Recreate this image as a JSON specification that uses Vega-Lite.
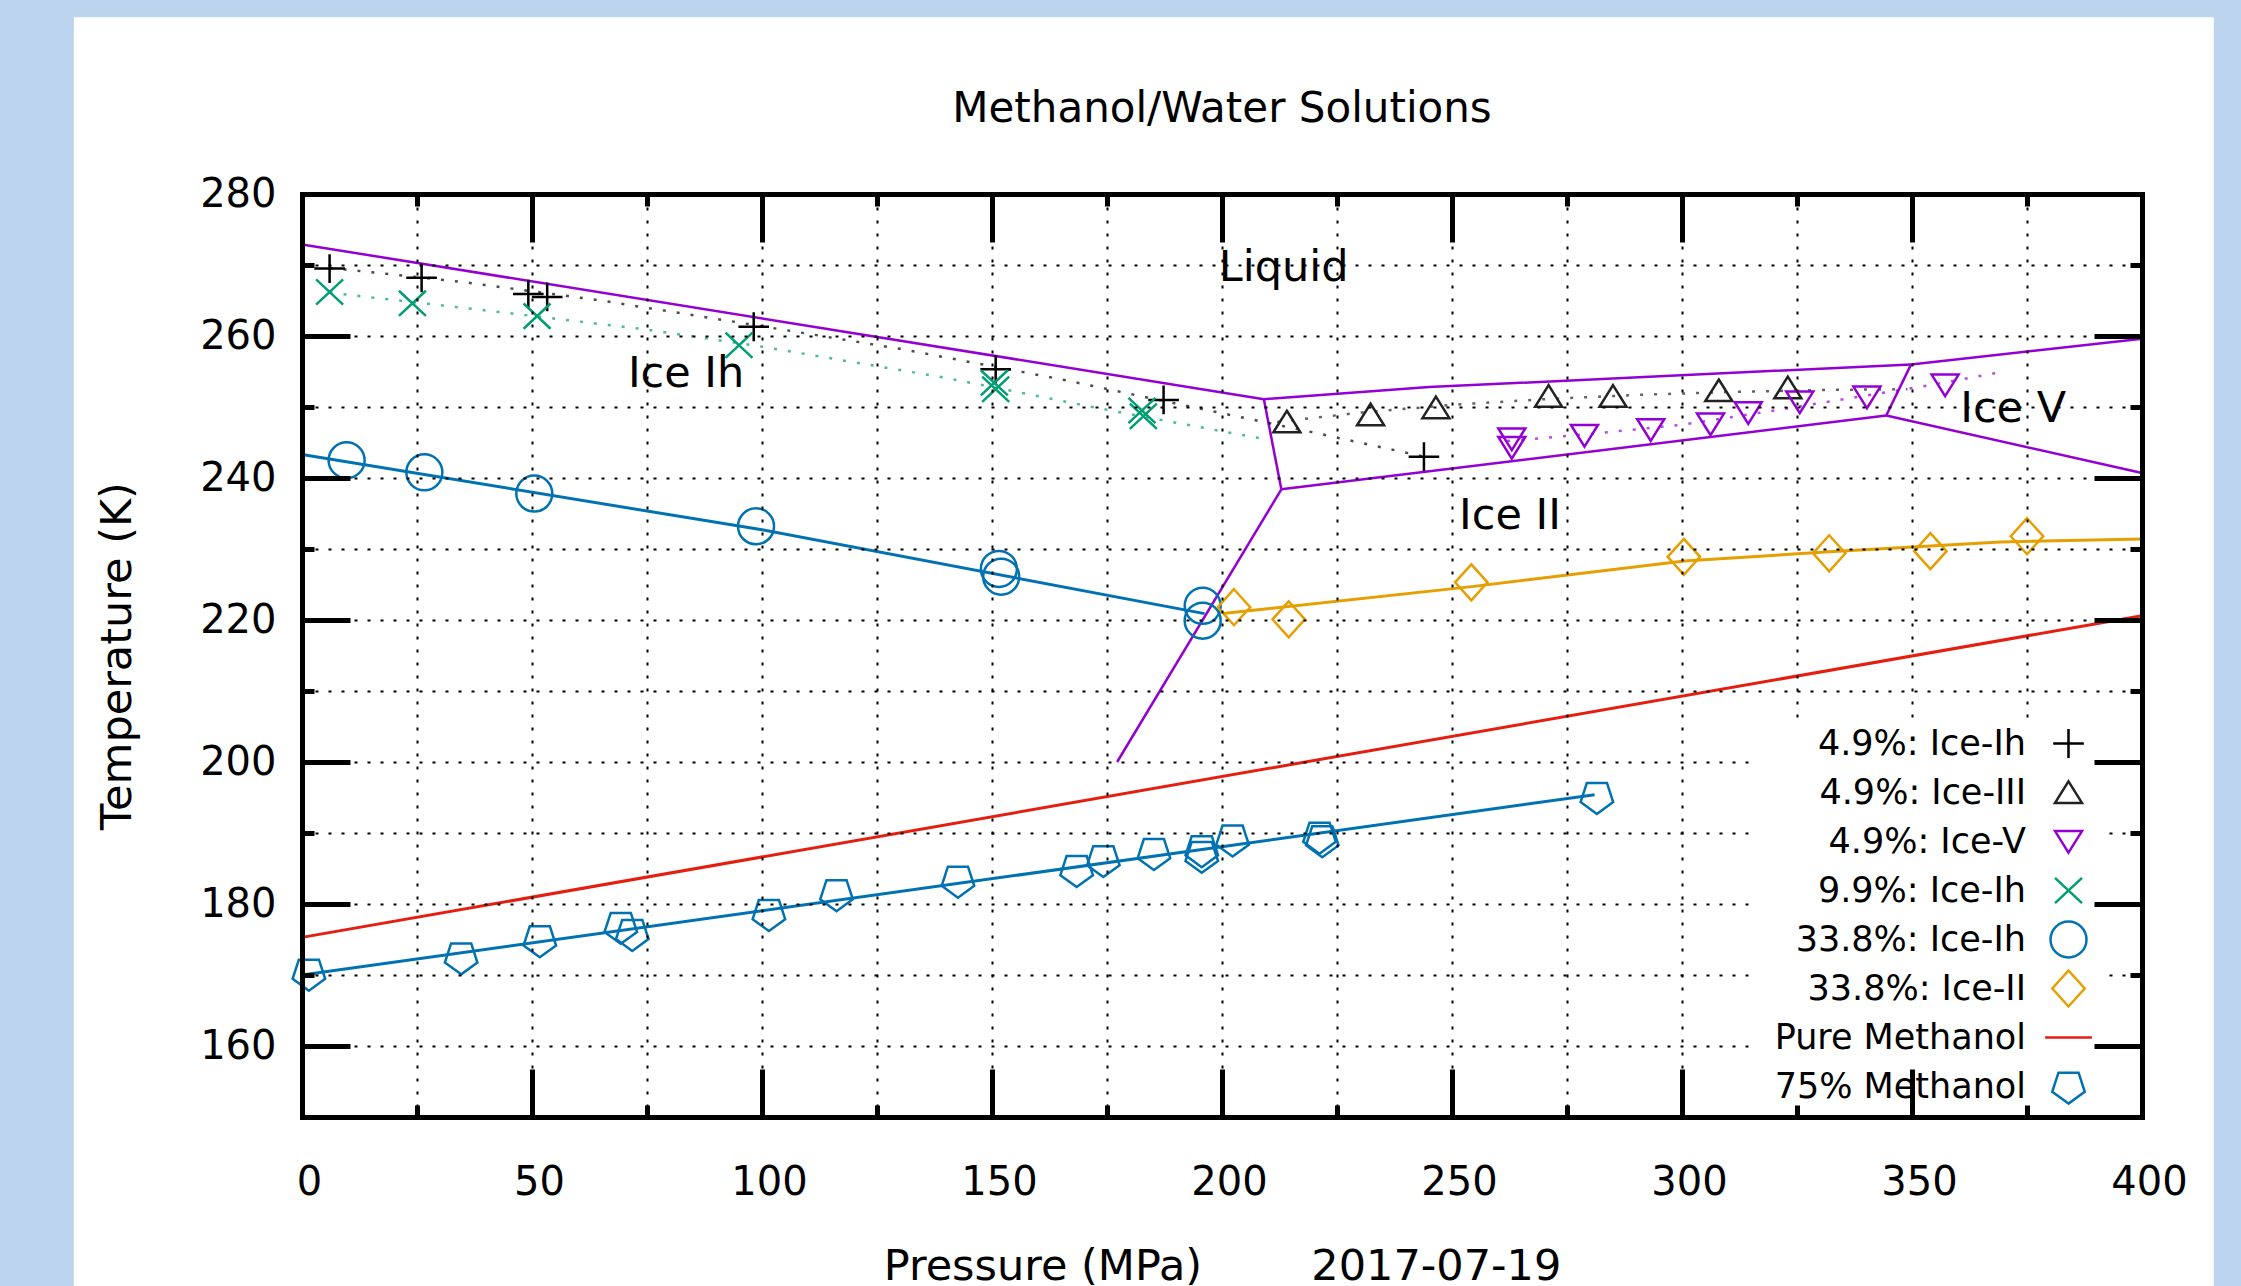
{
  "$schema": "https://vega.github.io/schema/vega-lite/v6.json",
  "width": 1840,
  "height": 923,
  "autosize": {"type": "none"},
  "padding": {"left": 302, "top": 194, "right": 99, "bottom": 169},
  "background": "#bcd4ee",
  "title": {"text": "Methanol/Water Solutions", "font": "DejaVu Sans", "fontSize": 42, "fontWeight": "normal", "color": "black", "offset": -114, "anchor": "middle", "frame": "group"},
  "config": {"view": {"stroke": null}},
  "datasets": {
    "pts": [
      {"s": "4.9%: Ice-Ih", "p": 6.0, "t": 269.5},
      {"s": "4.9%: Ice-Ih", "p": 26.0, "t": 268.2},
      {"s": "4.9%: Ice-Ih", "p": 49.2, "t": 265.9},
      {"s": "4.9%: Ice-Ih", "p": 53.3, "t": 265.5},
      {"s": "4.9%: Ice-Ih", "p": 98.2, "t": 261.3},
      {"s": "4.9%: Ice-Ih", "p": 150.8, "t": 255.3},
      {"s": "4.9%: Ice-Ih", "p": 187.3, "t": 251.0},
      {"s": "4.9%: Ice-Ih", "p": 243.9, "t": 243.0},
      {"s": "4.9%: Ice-III", "p": 214.1, "t": 247.9},
      {"s": "4.9%: Ice-III", "p": 232.3, "t": 248.9},
      {"s": "4.9%: Ice-III", "p": 246.5, "t": 249.9},
      {"s": "4.9%: Ice-III", "p": 271.0, "t": 251.5},
      {"s": "4.9%: Ice-III", "p": 285.0, "t": 251.5},
      {"s": "4.9%: Ice-III", "p": 308.0, "t": 252.3},
      {"s": "4.9%: Ice-III", "p": 323.0, "t": 252.7},
      {"s": "4.9%: Ice-V", "p": 263.0, "t": 245.5},
      {"s": "4.9%: Ice-V", "p": 263.0, "t": 244.3},
      {"s": "4.9%: Ice-V", "p": 278.8, "t": 246.0},
      {"s": "4.9%: Ice-V", "p": 293.2, "t": 246.8},
      {"s": "4.9%: Ice-V", "p": 306.2, "t": 247.6},
      {"s": "4.9%: Ice-V", "p": 314.4, "t": 249.2},
      {"s": "4.9%: Ice-V", "p": 325.6, "t": 250.7},
      {"s": "4.9%: Ice-V", "p": 340.2, "t": 251.4},
      {"s": "4.9%: Ice-V", "p": 357.2, "t": 253.1},
      {"s": "9.9%: Ice-Ih", "p": 6.0, "t": 266.2},
      {"s": "9.9%: Ice-Ih", "p": 24.0, "t": 264.6},
      {"s": "9.9%: Ice-Ih", "p": 51.1, "t": 262.8},
      {"s": "9.9%: Ice-Ih", "p": 95.0, "t": 258.7},
      {"s": "9.9%: Ice-Ih", "p": 150.5, "t": 253.4},
      {"s": "9.9%: Ice-Ih", "p": 150.8, "t": 252.5},
      {"s": "9.9%: Ice-Ih", "p": 182.6, "t": 249.5},
      {"s": "9.9%: Ice-Ih", "p": 182.9, "t": 248.7},
      {"s": "33.8%: Ice-Ih", "p": 9.7, "t": 242.5},
      {"s": "33.8%: Ice-Ih", "p": 26.6, "t": 240.8},
      {"s": "33.8%: Ice-Ih", "p": 50.5, "t": 237.8},
      {"s": "33.8%: Ice-Ih", "p": 98.7, "t": 233.2},
      {"s": "33.8%: Ice-Ih", "p": 151.5, "t": 227.2},
      {"s": "33.8%: Ice-Ih", "p": 152.0, "t": 226.1},
      {"s": "33.8%: Ice-Ih", "p": 195.8, "t": 222.0},
      {"s": "33.8%: Ice-Ih", "p": 195.8, "t": 219.9},
      {"s": "33.8%: Ice-II", "p": 202.6, "t": 221.8},
      {"s": "33.8%: Ice-II", "p": 214.5, "t": 220.1},
      {"s": "33.8%: Ice-II", "p": 254.2, "t": 225.3},
      {"s": "33.8%: Ice-II", "p": 300.4, "t": 228.9},
      {"s": "33.8%: Ice-II", "p": 332.0, "t": 229.4},
      {"s": "33.8%: Ice-II", "p": 354.0, "t": 229.7},
      {"s": "33.8%: Ice-II", "p": 375.0, "t": 231.8},
      {"s": "75% Methanol", "p": 1.5, "t": 170.2},
      {"s": "75% Methanol", "p": 34.6, "t": 172.5},
      {"s": "75% Methanol", "p": 51.7, "t": 174.9},
      {"s": "75% Methanol", "p": 69.3, "t": 176.8},
      {"s": "75% Methanol", "p": 71.8, "t": 175.8},
      {"s": "75% Methanol", "p": 101.5, "t": 178.6},
      {"s": "75% Methanol", "p": 116.2, "t": 181.4},
      {"s": "75% Methanol", "p": 142.6, "t": 183.3},
      {"s": "75% Methanol", "p": 168.4, "t": 184.8},
      {"s": "75% Methanol", "p": 174.2, "t": 186.2},
      {"s": "75% Methanol", "p": 185.2, "t": 187.2},
      {"s": "75% Methanol", "p": 195.6, "t": 187.6},
      {"s": "75% Methanol", "p": 195.6, "t": 186.8},
      {"s": "75% Methanol", "p": 202.3, "t": 189.1},
      {"s": "75% Methanol", "p": 221.2, "t": 189.5},
      {"s": "75% Methanol", "p": 221.8, "t": 189.0},
      {"s": "75% Methanol", "p": 281.5, "t": 195.1}
    ],
    "fit": [
      {"s": "33.8%: Ice-Ih", "p": 0, "t": 243.3},
      {"s": "33.8%: Ice-Ih", "p": 100, "t": 232.7},
      {"s": "33.8%: Ice-Ih", "p": 196.2, "t": 220.9},
      {"s": "33.8%: Ice-II", "p": 200.2, "t": 220.9},
      {"s": "33.8%: Ice-II", "p": 254.3, "t": 224.7},
      {"s": "33.8%: Ice-II", "p": 300.5, "t": 228.3},
      {"s": "33.8%: Ice-II", "p": 332.0, "t": 229.6},
      {"s": "33.8%: Ice-II", "p": 369.2, "t": 231.0},
      {"s": "33.8%: Ice-II", "p": 400, "t": 231.4},
      {"s": "Pure Methanol", "p": 0, "t": 175.3},
      {"s": "Pure Methanol", "p": 400, "t": 220.6},
      {"s": "75% Methanol", "p": 0, "t": 170.0},
      {"s": "75% Methanol", "p": 281.0, "t": 195.4}
    ],
    "dot": [
      {"s": "4.9%: Ice-Ih", "p": 6, "t": 269.6},
      {"s": "4.9%: Ice-Ih", "p": 35, "t": 267.6},
      {"s": "4.9%: Ice-Ih", "p": 65, "t": 265.0},
      {"s": "4.9%: Ice-Ih", "p": 95, "t": 261.9},
      {"s": "4.9%: Ice-Ih", "p": 130, "t": 258.2},
      {"s": "4.9%: Ice-Ih", "p": 165, "t": 253.9},
      {"s": "4.9%: Ice-Ih", "p": 195, "t": 249.8},
      {"s": "4.9%: Ice-Ih", "p": 220, "t": 246.4},
      {"s": "4.9%: Ice-Ih", "p": 244, "t": 243.0},
      {"s": "4.9%: Ice-III", "p": 212, "t": 247.9},
      {"s": "4.9%: Ice-III", "p": 230, "t": 249.2},
      {"s": "4.9%: Ice-III", "p": 250, "t": 250.3},
      {"s": "4.9%: Ice-III", "p": 270, "t": 251.1},
      {"s": "4.9%: Ice-III", "p": 290, "t": 251.7},
      {"s": "4.9%: Ice-III", "p": 310, "t": 252.1},
      {"s": "4.9%: Ice-III", "p": 330, "t": 252.4},
      {"s": "4.9%: Ice-III", "p": 349, "t": 252.5},
      {"s": "4.9%: Ice-V", "p": 262, "t": 245.2},
      {"s": "4.9%: Ice-V", "p": 280, "t": 246.2},
      {"s": "4.9%: Ice-V", "p": 300, "t": 247.5},
      {"s": "4.9%: Ice-V", "p": 320, "t": 249.5},
      {"s": "4.9%: Ice-V", "p": 340, "t": 251.6},
      {"s": "4.9%: Ice-V", "p": 355, "t": 253.2},
      {"s": "4.9%: Ice-V", "p": 370, "t": 255.0},
      {"s": "9.9%: Ice-Ih", "p": 6, "t": 266.1},
      {"s": "9.9%: Ice-Ih", "p": 40, "t": 263.6},
      {"s": "9.9%: Ice-Ih", "p": 75, "t": 260.9},
      {"s": "9.9%: Ice-Ih", "p": 100, "t": 258.5},
      {"s": "9.9%: Ice-Ih", "p": 140, "t": 254.1},
      {"s": "9.9%: Ice-Ih", "p": 175, "t": 249.6},
      {"s": "9.9%: Ice-Ih", "p": 209, "t": 245.5}
    ],
    "phase": [
      {"seg": "Ih-L", "p": 0, "t": 272.9},
      {"seg": "Ih-L", "p": 209.1, "t": 251.1},
      {"seg": "III-L", "p": 209.1, "t": 251.1},
      {"seg": "III-L", "p": 245.0, "t": 252.8},
      {"seg": "III-L", "p": 349.8, "t": 256.0},
      {"seg": "V-L", "p": 349.8, "t": 256.0},
      {"seg": "V-L", "p": 400, "t": 259.6},
      {"seg": "Ih-III", "p": 209.1, "t": 251.1},
      {"seg": "Ih-III", "p": 212.9, "t": 238.4},
      {"seg": "III-II", "p": 212.9, "t": 238.4},
      {"seg": "III-II", "p": 344.4, "t": 248.8},
      {"seg": "III-V", "p": 344.4, "t": 248.8},
      {"seg": "III-V", "p": 349.8, "t": 256.0},
      {"seg": "II-V", "p": 344.4, "t": 248.8},
      {"seg": "II-V", "p": 400, "t": 240.7},
      {"seg": "Ih-II", "p": 212.9, "t": 238.4},
      {"seg": "Ih-II", "p": 177.2, "t": 200.0}
    ],
    "lab": [
      {"label": "Liquid", "p": 213.4, "t": 269.6},
      {"label": "Ice Ih", "p": 83.5, "t": 254.6},
      {"label": "Ice II", "p": 262.6, "t": 234.6},
      {"label": "Ice V", "p": 372.0, "t": 249.7}
    ]
  },
  "layer": [
    {
      "data": {"values": [{}]},
      "mark": {"type": "rect", "color": "white"},
      "encoding": {
        "x": {"datum": -49.6, "type": "quantitative", "scale": {"domain": [0, 400], "nice": false, "zero": false}, "axis": null},
        "x2": {"datum": 415.6},
        "y": {"datum": 304.9, "type": "quantitative", "scale": {"domain": [150, 280], "nice": false, "zero": false}, "axis": null},
        "y2": {"datum": 100}
      }
    },
    {
      "data": {"name": "phase"},
      "mark": {"type": "line", "color": "#9400D3", "strokeWidth": 2.5},
      "encoding": {
        "x": {"field": "p", "type": "quantitative", "scale": {"domain": [0, 400], "nice": false, "zero": false},
          "axis": {"orient": "bottom", "values": [0, 50, 100, 150, 200, 250, 300, 350, 400], "ticks": false, "domain": false, "grid": false,
            "labelFont": "DejaVu Sans", "labelFontSize": 40, "labelColor": "black", "labelPadding": 45, "labelOffset": 7, "labelFlush": false, "labelOverlap": false,
            "title": "Pressure (MPa)\u00a0\u00a0\u00a0\u00a0\u00a0\u00a0\u00a0\u00a02017-07-19", "titleFont": "DejaVu Sans", "titleFontSize": 43, "titleFontWeight": "normal", "titleColor": "black", "titlePadding": 43, "zindex": 1}},
        "y": {"field": "t", "type": "quantitative", "scale": {"domain": [150, 280], "nice": false, "zero": false},
          "axis": {"orient": "left", "values": [160, 180, 200, 220, 240, 260, 280], "ticks": false, "domain": false, "grid": false,
            "labelFont": "DejaVu Sans", "labelFontSize": 40, "labelColor": "black", "labelPadding": 26, "labelFlush": false, "labelOverlap": false,
            "title": "Temperature (K)", "titleFont": "DejaVu Sans", "titleFontSize": 43, "titleFontWeight": "normal", "titleColor": "black", "titlePadding": 60, "zindex": 1}},
        "detail": {"field": "seg"}
      }
    },
    {
      "data": {"name": "fit"},
      "mark": {"type": "line", "strokeWidth": 3},
      "encoding": {
        "x": {"field": "p", "type": "quantitative", "scale": {"domain": [0, 400], "nice": false, "zero": false},
          "axis": {"orient": "bottom", "values": [0, 25, 50, 75, 100, 125, 150, 175, 200, 225, 250, 275, 300, 325, 350, 375, 400], "labels": false, "title": null,
            "grid": true, "gridColor": "black", "gridDash": [3, 10], "gridWidth": 2, "gridOpacity": 1, "ticks": false, "domain": false, "zindex": 1}},
        "y": {"field": "t", "type": "quantitative", "scale": {"domain": [150, 280], "nice": false, "zero": false},
          "axis": {"orient": "left", "values": [150, 160, 170, 180, 190, 200, 210, 220, 230, 240, 250, 260, 270, 280], "labels": false, "title": null,
            "grid": true, "gridColor": "black", "gridDash": [3, 10], "gridWidth": 2, "gridOpacity": 1, "ticks": false, "domain": false, "zindex": 1}},
        "stroke": {"field": "s", "type": "nominal", "legend": null,
          "scale": {"domain": ["33.8%: Ice-Ih", "33.8%: Ice-II", "Pure Methanol", "75% Methanol", "4.9%: Ice-Ih", "4.9%: Ice-III", "4.9%: Ice-V", "9.9%: Ice-Ih"],
            "range": ["#0072B2", "#E69F00", "#E51E10", "#0072B2", "#000000", "#222222", "#9400D3", "#009E73"]}}
      }
    },
    {
      "data": {"name": "dot"},
      "mark": {"type": "line", "strokeWidth": 2.5, "strokeDash": [3, 11], "opacity": 0.7},
      "encoding": {
        "x": {"field": "p", "type": "quantitative", "scale": {"domain": [0, 400], "nice": false, "zero": false},
          "axis": {"orient": "top", "values": [0, 25, 50, 75, 100, 125, 150, 175, 200, 225, 250, 275, 300, 325, 350, 375, 400], "labels": false, "title": null, "grid": false,
            "ticks": true, "tickColor": "black", "tickWidth": 5, "tickSize": {"condition": {"test": "datum.value % 50 === 0", "value": -48}, "value": -12},
            "domain": true, "domainColor": "black", "domainWidth": 5, "domainCap": "square", "zindex": 2}},
        "y": {"field": "t", "type": "quantitative", "scale": {"domain": [150, 280], "nice": false, "zero": false},
          "axis": {"orient": "right", "values": [150, 160, 170, 180, 190, 200, 210, 220, 230, 240, 250, 260, 270, 280], "labels": false, "title": null, "grid": false,
            "ticks": true, "tickColor": "black", "tickWidth": 5, "tickSize": {"condition": {"test": "datum.value % 20 === 0", "value": -48}, "value": -12},
            "domain": true, "domainColor": "black", "domainWidth": 5, "domainCap": "square", "zindex": 2}},
        "stroke": {"field": "s", "type": "nominal", "legend": null,
          "scale": {"domain": ["33.8%: Ice-Ih", "33.8%: Ice-II", "Pure Methanol", "75% Methanol", "4.9%: Ice-Ih", "4.9%: Ice-III", "4.9%: Ice-V", "9.9%: Ice-Ih"],
            "range": ["#0072B2", "#E69F00", "#E51E10", "#0072B2", "#000000", "#222222", "#9400D3", "#009E73"]}},
        "detail": {"field": "s"}
      }
    },
    {
      "data": {"name": "pts"},
      "mark": {"type": "point", "filled": false, "size": 1296, "strokeWidth": 2.5, "opacity": 1},
      "encoding": {
        "x": {"field": "p", "type": "quantitative", "scale": {"domain": [0, 400], "nice": false, "zero": false}, "axis": null},
        "y": {"field": "t", "type": "quantitative", "scale": {"domain": [150, 280], "nice": false, "zero": false}, "axis": null},
        "color": {"field": "s", "type": "nominal", "title": null,
          "scale": {"domain": ["4.9%: Ice-Ih", "4.9%: Ice-III", "4.9%: Ice-V", "9.9%: Ice-Ih", "33.8%: Ice-Ih", "33.8%: Ice-II", "Pure Methanol", "75% Methanol"],
            "range": ["#000000", "#222222", "#9400D3", "#009E73", "#0072B2", "#E69F00", "#E51E10", "#0072B2"]},
          "legend": {"orient": "none", "legendX": 1451, "legendY": 524, "title": null, "zindex": 1,
            "labelFont": "DejaVu Sans", "labelFontSize": 35, "labelColor": "black", "labelAlign": "right", "labelLimit": 500,
            "symbolOffset": 290, "labelOffset": -62, "symbolSize": 1296, "symbolStrokeWidth": 2.5, "rowPadding": 0,
            "padding": 6, "fillColor": "white", "strokeColor": null}},
        "shape": {"field": "s", "type": "nominal", "title": null,
          "scale": {"domain": ["4.9%: Ice-Ih", "4.9%: Ice-III", "4.9%: Ice-V", "9.9%: Ice-Ih", "33.8%: Ice-Ih", "33.8%: Ice-II", "Pure Methanol", "75% Methanol"],
            "range": [
              "M0,-1.06M0,1.06M-0.85,0H0.85M0,-0.8V0.8",
              "M0,-1.06M0,1.06M0,-0.62L0.75,0.58L-0.75,0.58Z",
              "M0,-1.06M0,1.06M0,0.62L0.75,-0.58L-0.75,-0.58Z",
              "M0,-1.06M0,1.06M-0.75,-0.7L0.75,0.7M0.75,-0.7L-0.75,0.7",
              "M0,-1.06M0,1.06M1,0A1,1,0,1,1,-1,0A1,1,0,1,1,1,0Z",
              "M0,-1.06M0,1.06M0,-1L0.9,0L0,1L-0.9,0Z",
              "M0,-1.06M0,1.06M-1.3,0H1.3",
              "M0,-1.06M0,1.06M0,0.95L-0.904,0.294L-0.559,-0.769L0.559,-0.769L0.904,0.294Z"]},
          "legend": {"orient": "none", "legendX": 1451, "legendY": 524, "title": null, "zindex": 1,
            "labelFont": "DejaVu Sans", "labelFontSize": 35, "labelColor": "black", "labelAlign": "right", "labelLimit": 500,
            "symbolOffset": 290, "labelOffset": -62, "symbolSize": 1296, "symbolStrokeWidth": 2.5, "rowPadding": 0,
            "padding": 6, "fillColor": "white", "strokeColor": null}}
      }
    },
    {
      "data": {"name": "lab"},
      "mark": {"type": "text", "font": "DejaVu Sans", "fontSize": 43, "color": "black", "align": "center", "baseline": "middle"},
      "encoding": {
        "x": {"field": "p", "type": "quantitative", "scale": {"domain": [0, 400], "nice": false, "zero": false},
          "axis": {"orient": "bottom", "values": [0, 25, 50, 75, 100, 125, 150, 175, 200, 225, 250, 275, 300, 325, 350, 375, 400], "labels": false, "title": null, "grid": false,
            "ticks": true, "tickColor": "black", "tickWidth": 5, "tickSize": {"condition": {"test": "datum.value % 50 === 0", "value": -48}, "value": -12},
            "domain": true, "domainColor": "black", "domainWidth": 5, "domainCap": "square", "zindex": 2}},
        "y": {"field": "t", "type": "quantitative", "scale": {"domain": [150, 280], "nice": false, "zero": false},
          "axis": {"orient": "left", "values": [150, 160, 170, 180, 190, 200, 210, 220, 230, 240, 250, 260, 270, 280], "labels": false, "title": null, "grid": false,
            "ticks": true, "tickColor": "black", "tickWidth": 5, "tickSize": {"condition": {"test": "datum.value % 20 === 0", "value": -48}, "value": -12},
            "domain": true, "domainColor": "black", "domainWidth": 5, "domainCap": "square", "zindex": 2}},
        "text": {"field": "label"}
      }
    }
  ],
  "resolve": {"axis": {"x": "independent", "y": "independent"}}
}
